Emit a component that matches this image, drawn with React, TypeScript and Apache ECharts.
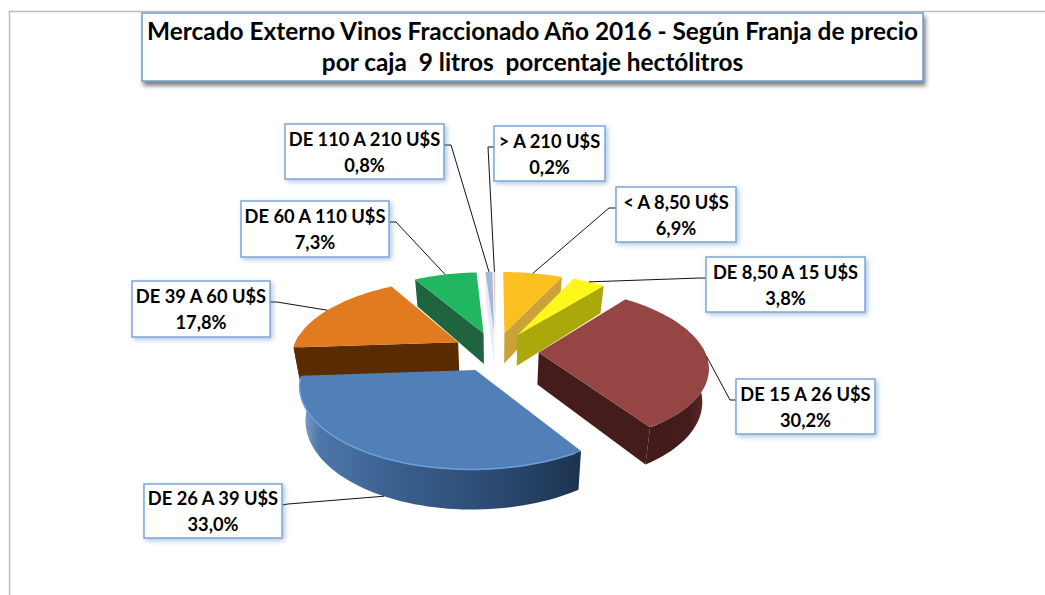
import React, { useEffect, useRef } from "react";
import * as echarts from "echarts";

const categories = ["< A 8,50 U$S", "DE 8,50 A 15 U$S", "DE 15 A 26 U$S", "DE 26 A 39 U$S", "DE 39 A 60 U$S", "DE 60 A 110 U$S", "DE 110 A 210 U$S", "> A 210 U$S"];
const values = [6.9, 3.8, 30.2, 33.0, 17.8, 7.3, 0.8, 0.2];
const titleLines = ["Mercado Externo Vinos Fraccionado Año 2016 - Según Franja de precio", "por caja  9 litros  porcentaje hectólitros"];

const topColors = ["#fbbf1f", "#fdf81a", "#964545", "#5180b9", "#e27a20", "#20b760", "#a3b7d9", "#eac4bf"];
const wallColors = ["#c9a238", "#aba80c", "#451c1c", "#1f3a5c", "#5b2b00", "#20633f", "#e8ecf2", "#f4eeee"];
const rimStops: [number, string][][] = [
  [[0, "#c9a238"], [1, "#c9a238"]],
  [[0, "#aba80c"], [1, "#aba80c"]],
  [[0, "#421a1a"], [0.72, "#461c1c"], [0.92, "#5f2828"], [1, "#8a4444"]],
  [[0, "#8aa9cf"], [0.07, "#4d76a8"], [0.35, "#3a5f8e"], [0.7, "#2a4a70"], [1, "#1d3350"]],
  [[0, "#5b2b00"], [1, "#5b2b00"]],
  [[0, "#20633f"], [1, "#20633f"]],
  [[0, "#eeeeee"], [1, "#eeeeee"]],
  [[0, "#eeeeee"], [1, "#eeeeee"]],
];
// label boxes: x, y, w, h and elbow point of the leader line
const boxes = [
  { x: 616, y: 187, w: 120, h: 55, sx: 616, sy: 208, ex: 609, ey: 208 },
  { x: 706, y: 257, w: 159, h: 55, sx: 706, sy: 278, ex: 700, ey: 278 },
  { x: 736, y: 379, w: 139, h: 55, sx: 736, sy: 400, ex: 730, ey: 400 },
  { x: 144, y: 484, w: 138, h: 54, sx: 282, sy: 505, ex: 288, ey: 504 },
  { x: 132, y: 281, w: 138, h: 56, sx: 270, sy: 302, ex: 277, ey: 302 },
  { x: 241, y: 201, w: 148, h: 56, sx: 389, sy: 222, ex: 396, ey: 222 },
  { x: 285, y: 124, w: 159, h: 55, sx: 444, sy: 145, ex: 451, ey: 145 },
  { x: 494, y: 126, w: 111, h: 55, sx: 494, sy: 147, ex: 488, ey: 147 },
];

const CX = 495.5, CY = 351.5, R = 166, EY = 0.46, P = 0.164, T = 32, EXPLODE = 0.26, BASE = 0.03;
const total = values.reduce((a, b) => a + b, 0);
const rad = (d: number) => (d * Math.PI) / 180;
const spans = values.map((_, i) => {
  const before = values.slice(0, i).reduce((a, b) => a + b, 0);
  return [(before / total) * 360, ((before + values[i]) / total) * 360];
});
const mids = spans.map(([a, b]) => (a + b) / 2);

function project(i: number, r: number, deg: number, z: number): number[] {
  const m = rad(mids[i]);
  const x = EXPLODE * Math.sin(m) + r * Math.sin(rad(deg));
  const y = -EXPLODE * Math.cos(m) - r * Math.cos(rad(deg));
  const s = 1 / (1 - P * y);
  return [CX + R * x * s * (1 - BASE * z), CY + R * EY * y * s + T * z * s];
}
function arc(i: number, a: number, b: number, z: number): number[][] {
  const n = Math.max(2, Math.ceil((b - a) / 2));
  const pts: number[][] = [];
  for (let k = 0; k <= n; k++) pts.push(project(i, 1, a + ((b - a) * k) / n, z));
  return pts;
}

const order = values.map((_, i) => i).sort((a, b) => {
  const d = (i: number) => -Math.cos(rad(mids[i]));
  return d(a) - d(b);
});

function renderSlice(_: any, api: any) {
  const i = api.value(0) as number;
  const [a0, a1] = spans[i];
  const children: any[] = [];
  const wall = (deg: number) => ({
    type: "polygon",
    shape: { points: [project(i, 0, 0, 0), project(i, 1, deg, 0), project(i, 1, deg, 1), project(i, 0, 0, 1)] },
    style: { fill: wallColors[i] },
  });
  if (Math.sin(rad(a0)) < 0) children.push(wall(a0));
  if (Math.sin(rad(a1)) > 0.001) children.push(wall(a1));
  const f0 = Math.max(a0, 85), f1 = Math.min(a1, 275);
  if (f1 > f0) {
    children.push({
      type: "polygon",
      shape: { points: [...arc(i, f0, f1, 0), ...arc(i, f0, f1, 1).reverse()] },
      style: {
        fill: new echarts.graphic.LinearGradient(0, 0, 1, 0, rimStops[i].map(([offset, color]) => ({ offset, color }))),
      },
    });
  }
  children.push({
    type: "polygon",
    shape: { points: [project(i, 0, 0, 0), ...arc(i, a0, a1, 0)] },
    style: { fill: topColors[i] },
  });
  if (i === 3) {
    children.push({ type: "polyline", shape: { points: arc(i, a0 + 2, a1 - 2, 0) }, style: { stroke: "#6f9fd8", lineWidth: 1.5, fill: "none" } });
  }
  return { type: "group", children };
}

function renderLabel(_: any, api: any) {
  const i = api.value(0) as number;
  const b = boxes[i];
  const front = Math.cos(rad(mids[i])) < -0.5;
  const end = project(i, 1, mids[i], front ? 1 : 0);
  return {
    type: "group",
    children: [
      { type: "polyline", shape: { points: [[b.sx, b.sy], [b.ex, b.ey], end] }, style: { stroke: "#111", lineWidth: 1, fill: "none" } },
      {
        type: "rect",
        shape: { x: b.x, y: b.y, width: b.w, height: b.h },
        style: { fill: "#fff", stroke: "#7ea6d8", lineWidth: 1.5, shadowBlur: 5, shadowOffsetX: 2, shadowOffsetY: 2, shadowColor: "rgba(79,129,189,0.45)" },
      },
      {
        type: "text",
        x: b.x + b.w / 2,
        y: b.y + b.h / 2,
        style: {
          text: `${categories[i]}\n${values[i].toFixed(1).replace(".", ",")}%`,
          fontFamily: "Lato", fontWeight: "bold", fontSize: 18.3, lineHeight: 26, fill: "#000",
          align: "center", verticalAlign: "middle",
        },
      },
    ],
  };
}

export default function App() {
  const ref = useRef<HTMLDivElement>(null);
  useEffect(() => {
    document.body.style.margin = "0";
    const chart = echarts.init(ref.current!, null, { renderer: "svg" });
    chart.setOption({
      animation: false,
      backgroundColor: "#fff",
      graphic: [
        { type: "polyline", shape: { points: [[9.5, 595], [9.5, 11.5], [1045, 11.5]] }, style: { stroke: "#bdbdbd", lineWidth: 1.5, fill: "none" }, silent: true },
        {
          type: "rect",
          shape: { x: 142, y: 13, width: 781, height: 68 },
          style: { fill: "#fff", stroke: "#6f9bd0", lineWidth: 1.5, shadowBlur: 4, shadowOffsetX: 2, shadowOffsetY: 4, shadowColor: "rgba(40,40,40,0.6)" },
        },
        {
          type: "text", x: 532.5, y: 46,
          style: {
            text: titleLines.join("\n"), fontFamily: "Lato", fontWeight: "bold", fontSize: 24.4, lineHeight: 31,
            fill: "#000", align: "center", verticalAlign: "middle",
          },
        },
      ],
      series: [
        { type: "custom", coordinateSystem: "none", silent: true, z: 2, renderItem: renderSlice, data: order.map((i) => [i]) },
        { type: "custom", coordinateSystem: "none", silent: true, z: 3, renderItem: renderLabel, data: values.map((_, i) => [i]) },
      ],
    });
    return () => chart.dispose();
  }, []);
  return <div ref={ref} style={{ width: 1045, height: 595 }} />;
}
